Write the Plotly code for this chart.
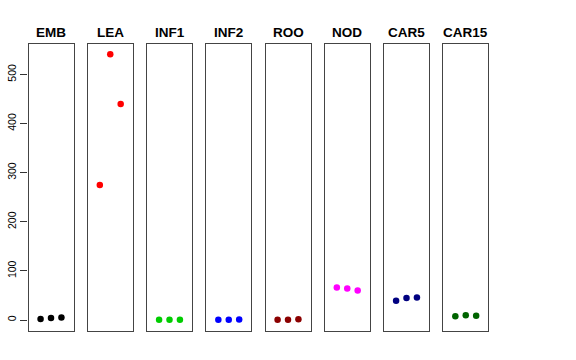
import plotly.graph_objects as go

W, H = 576, 360

tissues = ["EMB", "LEA", "INF1", "INF2", "ROO", "NOD", "CAR5", "CAR15"]
colors = ["#000000", "#FF0000", "#00CD00", "#0000FF", "#8B0000", "#FF00FF", "#000080", "#006400"]
replicate = [1, 2, 3]
emb = [2, 4, 5]
lea = [275, 541, 440]
inf1 = [0.4, 0.5, 0.5]
inf2 = [0.5, 0.6, 0.8]
roo = [0.3, 0.4, 1.5]
nod = [66, 64, 60]
car5 = [39, 45, 46]
car15 = [7.5, 9.5, 8.5]
values = [emb, lea, inf1, inf2, roo, nod, car5, car15]
yticks = [0, 100, 200, 300, 400, 500]

fig = go.Figure()
box_left0 = 28.5
box_step = 59.25
box_w = 45
top_px, bot_px = 43.5, 331

layout = dict(
    width=W, height=H,
    margin=dict(l=0, r=0, t=0, b=0),
    paper_bgcolor="white", plot_bgcolor="white",
    showlegend=False,
    font=dict(family="Liberation Sans, Arial, sans-serif", color="black"),
)
annotations = []
for i, (name, col, vals) in enumerate(zip(tissues, colors, values)):
    n = "" if i == 0 else str(i + 1)
    fig.add_trace(go.Scatter(
        x=replicate, y=vals, mode="markers",
        marker=dict(color=col, size=6.5, line=dict(width=0)),
        xaxis="x" + n, yaxis="y" + n, hoverinfo="y",
    ))
    x0 = (box_left0 + i * box_step) / W
    x1 = (box_left0 + i * box_step + box_w) / W
    layout["xaxis" + n] = dict(
        domain=[x0, x1], range=[-0.16, 4.16], anchor="y" + n,
        showgrid=False, zeroline=False, showticklabels=False, ticks="",
        showline=True, mirror=True, linecolor="#444", linewidth=1.3,
        fixedrange=True,
    )
    yax = dict(
        domain=[1 - bot_px / H, 1 - top_px / H], range=[-22.4, 563],
        anchor="x" + n, showgrid=False, zeroline=False,
        showline=True, mirror=True, linecolor="#444", linewidth=1.3,
        automargin=False, fixedrange=True,
    )
    if i == 0:
        yax.update(tickvals=yticks, ticktext=[str(v) for v in yticks],
                   ticks="outside", ticklen=7, tickcolor="#333", tickwidth=1,
                   tickangle=-90, tickfont=dict(size=10.5, color="black"),
                   showticklabels=True)
    else:
        yax.update(showticklabels=False, ticks="")
    layout["yaxis" + n] = yax
    annotations.append(dict(
        text="<b>" + name + "</b>", x=(x0 + x1) / 2, y=1 - 32 / H,
        xref="paper", yref="paper", xanchor="center", yanchor="middle",
        showarrow=False, font=dict(size=13.5, color="black"),
    ))
layout["annotations"] = annotations
fig.update_layout(**layout)
fig.write_html("out.html", config={"displayModeBar": False},
               post_script="document.body.style.margin='0';document.body.style.overflow='hidden';")
